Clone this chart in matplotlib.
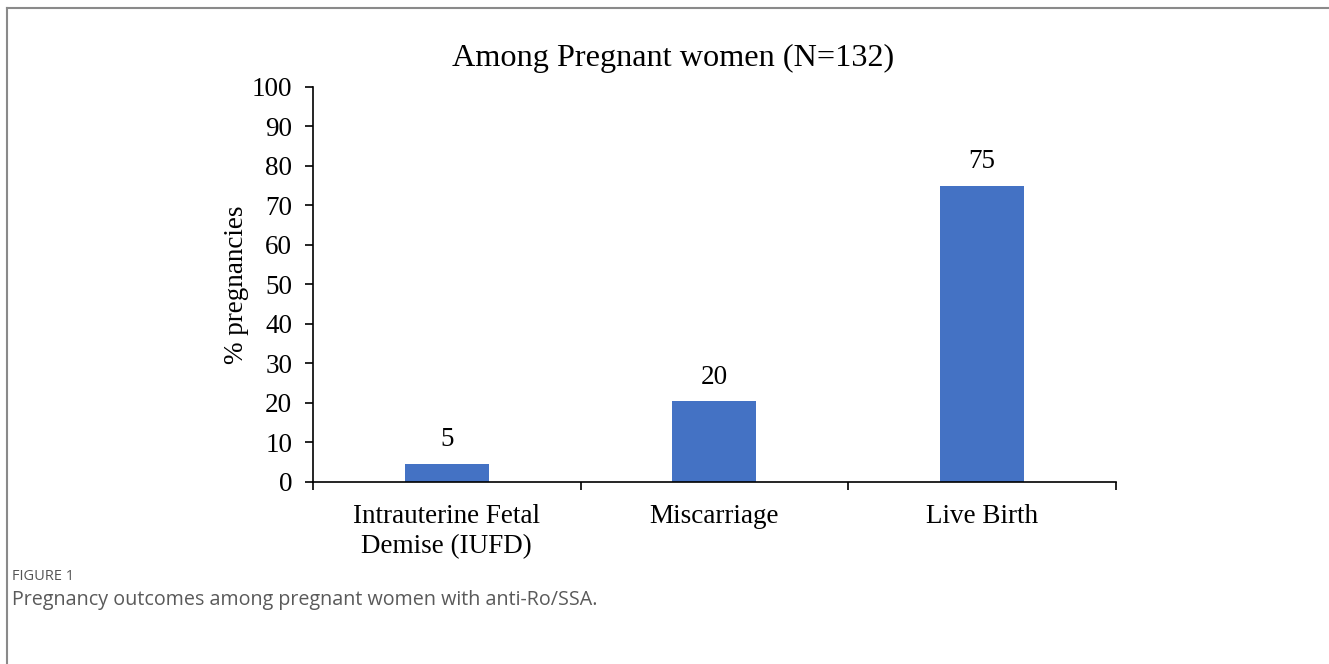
import matplotlib.pyplot as plt
from matplotlib.lines import Line2D
import numpy as np

categories = ['Intrauterine Fetal\nDemise (IUFD)', 'Miscarriage', 'Live Birth']
values = [4.5, 20.4, 75.0]
labels = ['5', '20', '75']
yticks = list(range(0, 101, 10))

plt.rcParams['font.family'] = 'Liberation Serif'

fig = plt.figure(figsize=(13.29, 6.64), dpi=100)
ax = fig.add_axes([0.2355, 0.2741, 0.6042, 0.5949])

x = np.arange(len(categories))
ax.bar(x, values, width=0.314, color='#4472C4')
for xi, v, lab in zip(x, values, labels):
    ax.text(xi, v + 3, lab, ha='center', va='bottom', fontsize=19.5)

ax.set_xlim(-0.5, 2.5)
ax.set_ylim(0, 100)
ax.set_yticks(yticks)
ax.tick_params(axis='y', labelsize=19.5, length=6, width=1.2, direction='out', pad=9)
ax.set_xticks(x)
ax.set_xticklabels(categories, fontsize=19.5, linespacing=1.27)
ax.set_xticks([-0.5, 0.5, 1.5, 2.5], minor=True)
ax.tick_params(axis='x', which='major', length=0, pad=16)
ax.tick_params(axis='x', which='minor', length=6, width=1.2, direction='out')
for s in ['top', 'right']:
    ax.spines[s].set_visible(False)
for s in ['left', 'bottom']:
    ax.spines[s].set_linewidth(1.2)

ax.set_ylabel('% pregnancies', fontsize=19.5, labelpad=2)

# chart title sits over the whole chart area, not just the axes
fig.text(673 / 1329, 1 - 58 / 664, 'Among Pregnant women (N=132)', fontsize=23.2,
         ha='center', va='center')

# outer frame
fig.add_artist(Line2D([7 / 1329, 1.0], [1 - 8 / 664, 1 - 8 / 664], color='#8a8a8a', lw=1.5))
fig.add_artist(Line2D([7 / 1329, 7 / 1329], [0.0, 1 - 8 / 664], color='#8a8a8a', lw=1.5))

fig.text(12 / 1329, 1 - 577 / 664, 'FIGURE 1', family='Open Sans', fontsize=10.5,
         color='#555555', va='center')
fig.text(12 / 1329, 1 - 600 / 664, 'Pregnancy outcomes among pregnant women with anti-Ro/SSA.',
         family='Open Sans', fontsize=14.2, color='#5a5a5a', va='center')

fig.savefig('out.png', dpi=100)
